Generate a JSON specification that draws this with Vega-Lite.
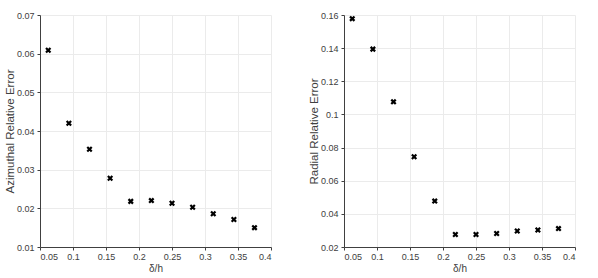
{
  "$schema": "https://vega.github.io/schema/vega-lite/v6.json",
  "background": "white",
  "padding": {"left": 4, "top": 11, "right": 5, "bottom": 0},
  "spacing": 36,
  "config": {
    "font": "Liberation Sans",
    "view": {"stroke": null},
    "axis": {
      "labelFont": "Liberation Sans",
      "titleFont": "Liberation Sans",
      "labelFontSize": 9,
      "titleFontSize": 11.5,
      "titleFontWeight": "normal",
      "labelColor": "#404040",
      "titleColor": "#404040",
      "domainColor": "#404040",
      "tickColor": "#404040",
      "tickSize": 3,
      "gridColor": "#ebebeb",
      "gridWidth": 1,
      "labelPadding": 3
    },
    "axisX": {"labelPadding": 2, "titlePadding": 2, "titleFontSize": 10},
    "axisY": {"titlePadding": 1}
  },
  "datasets": {
    "az": [
      {"dh": 0.0625, "err": 0.0609},
      {"dh": 0.09375, "err": 0.0420},
      {"dh": 0.125, "err": 0.0353},
      {"dh": 0.15625, "err": 0.0278},
      {"dh": 0.1875, "err": 0.0218},
      {"dh": 0.21875, "err": 0.0220},
      {"dh": 0.25, "err": 0.0213},
      {"dh": 0.28125, "err": 0.0203},
      {"dh": 0.3125, "err": 0.0186},
      {"dh": 0.34375, "err": 0.0171},
      {"dh": 0.375, "err": 0.0150}
    ],
    "rad": [
      {"dh": 0.0625, "err": 0.1578},
      {"dh": 0.09375, "err": 0.1394},
      {"dh": 0.125, "err": 0.1076},
      {"dh": 0.15625, "err": 0.0745},
      {"dh": 0.1875, "err": 0.0477},
      {"dh": 0.21875, "err": 0.0275},
      {"dh": 0.25, "err": 0.0275},
      {"dh": 0.28125, "err": 0.0281},
      {"dh": 0.3125, "err": 0.0297},
      {"dh": 0.34375, "err": 0.0303},
      {"dh": 0.375, "err": 0.0311}
    ]
  },
  "hconcat": [
    {
      "width": 231,
      "height": 232,
      "data": {"name": "az"},
      "mark": {"type": "point", "shape": "M-1,-1L1,1M-1,1L1,-1", "size": 20, "stroke": "black", "strokeWidth": 2.2, "opacity": 1, "filled": false},
      "encoding": {
        "x": {"field": "dh", "type": "quantitative", "title": "δ/h",
          "scale": {"domain": [0.05, 0.4], "nice": false, "zero": false},
          "axis": {"values": [0.05, 0.1, 0.15, 0.2, 0.25, 0.3, 0.35, 0.4], "format": "~g"}},
        "y": {"field": "err", "type": "quantitative", "title": "Azimuthal Relative Error",
          "scale": {"domain": [0.01, 0.07], "nice": false, "zero": false},
          "axis": {"values": [0.01, 0.02, 0.03, 0.04, 0.05, 0.06, 0.07], "format": "~g"}}
      }
    },
    {
      "width": 231,
      "height": 232,
      "data": {"name": "rad"},
      "mark": {"type": "point", "shape": "M-1,-1L1,1M-1,1L1,-1", "size": 20, "stroke": "black", "strokeWidth": 2.2, "opacity": 1, "filled": false},
      "encoding": {
        "x": {"field": "dh", "type": "quantitative", "title": "δ/h",
          "scale": {"domain": [0.05, 0.4], "nice": false, "zero": false},
          "axis": {"values": [0.05, 0.1, 0.15, 0.2, 0.25, 0.3, 0.35, 0.4], "format": "~g"}},
        "y": {"field": "err", "type": "quantitative", "title": "Radial Relative Error",
          "scale": {"domain": [0.02, 0.16], "nice": false, "zero": false},
          "axis": {"values": [0.02, 0.04, 0.06, 0.08, 0.1, 0.12, 0.14, 0.16], "format": "~g"}}
      }
    }
  ]
}
